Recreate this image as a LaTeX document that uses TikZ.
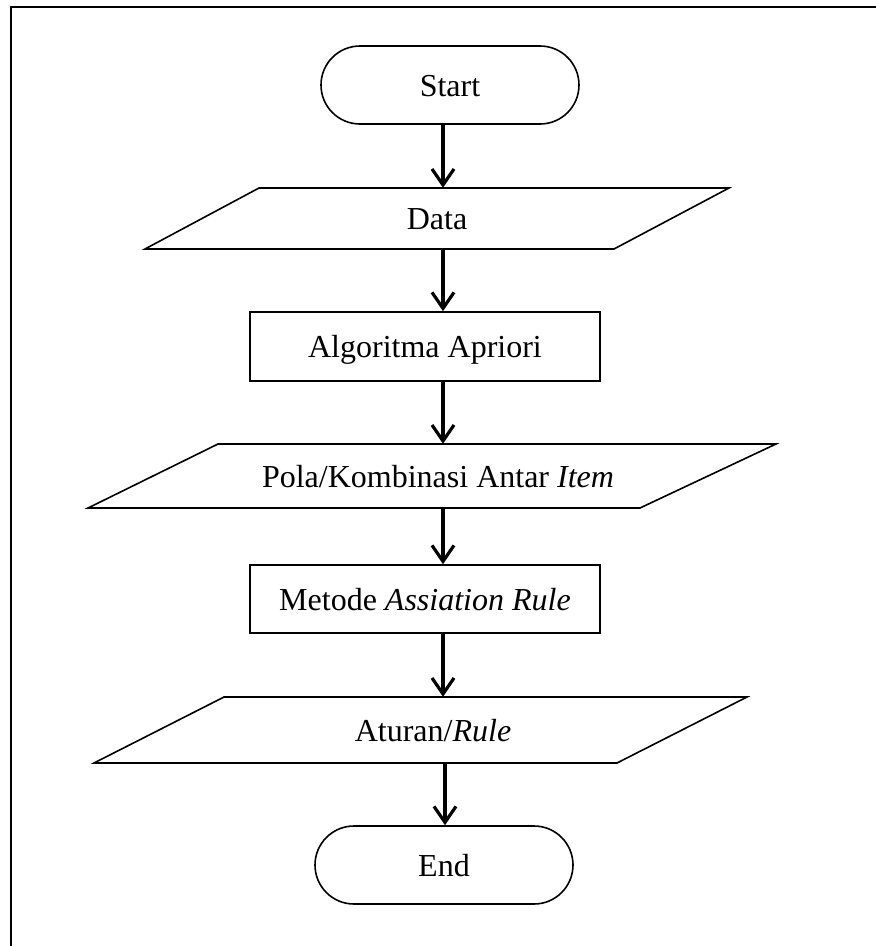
\documentclass[tikz,border=0pt]{standalone}
\usepackage{fontspec}
\setmainfont{Liberation Serif}
\usetikzlibrary{arrows.meta}

\begin{document}
\begin{tikzpicture}[x=1pt,y=-1pt,
    outline/.style={draw=black, line width=1.6pt, line join=miter},
    txtbox/.style={inner sep=0pt, text height=22pt, text depth=0pt,
                   font=\fontsize{32}{38}\selectfont},
    termbox/.style={txtbox, outline, rectangle, rounded corners=39pt,
                    minimum width=258pt, minimum height=78pt},
    procbox/.style={txtbox, outline, rectangle,
                    minimum width=350pt},
    iobox/.style={txtbox},
    flow/.style={line width=3.2pt,
                 -{Straight Barb[length=16pt,width=22pt]}}]

  \useasboundingbox (0,0) rectangle (876,946);

  % frame lines along the top and the left
  \draw[line width=2pt] (11,946) -- (11,7) -- (876,7);

  % x position shared by the connectors
  \coordinate (ax) at (443,0);

  % terminals
  \node[termbox] (start) at (450,85) {Start};
  \node[termbox] (end) at (444,865) {End};

  % process boxes
  \node[procbox, minimum height=69pt] (apriori) at (425,346.5) {Algoritma Apriori};
  \node[procbox, minimum height=68pt] (metode) at (425,599) {Metode \textit{Assiation Rule}};

  % input / output parallelograms
  \draw[outline] (259,188) -- (729,188) -- (614,249) -- (145,249) -- cycle;
  \node[iobox, minimum height=61pt] (data) at (437,218.5) {Data};

  \draw[outline] (218,444) -- (776,444) -- (640,508) -- (88,508) -- cycle;
  \node[iobox, minimum height=64pt] (pola) at (438,476) {Pola/Kombinasi Antar \textit{Item}};

  \draw[outline] (224,697) -- (747,697) -- (617,763) -- (94,763) -- cycle;
  \node[iobox, minimum height=66pt] (aturan) at (433,730) {Aturan/\textit{Rule}};

  % connectors
  \draw[flow] (start.south -| ax) -- (data.north -| ax);
  \draw[flow] (data.south -| ax) -- (apriori.north -| ax);
  \draw[flow] (apriori.south -| ax) -- (pola.north -| ax);
  \draw[flow] (pola.south -| ax) -- (metode.north -| ax);
  \draw[flow] (metode.south -| ax) -- (aturan.north -| ax);
  \coordinate (bx) at (445,0);
  \draw[flow] (aturan.south -| bx) -- (end.north -| bx);
\end{tikzpicture}
\end{document}
